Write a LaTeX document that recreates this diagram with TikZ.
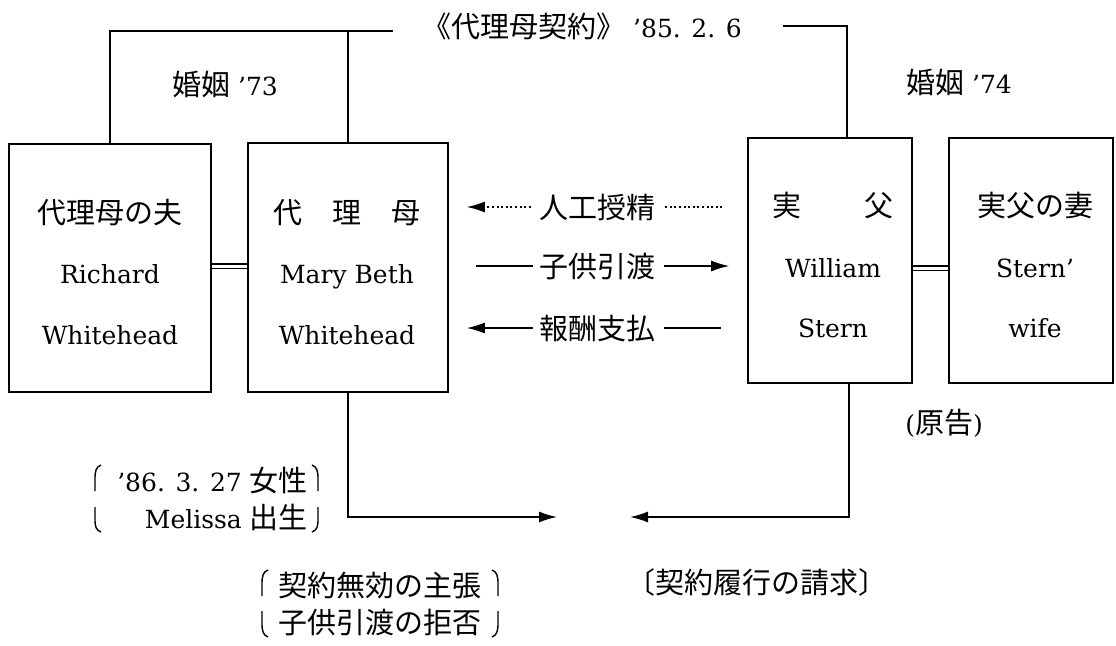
\documentclass[tikz,border=0pt]{standalone}
\usepackage{fontspec}
\setmainfont{DejaVu Serif}
\newfontfamily\jp{Noto Sans CJK JP}[Scale=1.16]
\usetikzlibrary{arrows.meta}
\begin{document}
\begin{tikzpicture}[x=1pt,y=-1pt,
  box/.style={draw, line width=1.6pt, inner sep=0pt},
  txt/.style={font=\fontsize{25}{28}\selectfont, inner sep=0pt, text height=22pt, text depth=0pt},
  ln/.style={line width=1.6pt},
  tip/.style={-{Latex[length=18pt,width=11pt]}},
  arr/.style={line width=1.6pt, tip},
  dotpat/.style={line width=1.4pt, dash pattern=on 2pt off 2.6pt},
  dbl/.style={double, double distance=3pt, line width=1.6pt},
  brk/.style={line width=1.4pt}]
\useasboundingbox (0,0) rectangle (1116,645);

% boxes
\node[box, minimum width=202pt, minimum height=248pt] (b1) at (110,268) {};
\node[box, minimum width=200pt, minimum height=249pt] (b2) at (348,267.5) {};
\node[box, minimum width=164pt, minimum height=245pt] (b3) at (830,260.5) {};
\node[box, minimum width=164pt, minimum height=245pt] (b4) at (1031,260.5) {};

% box texts
\node[txt] (t11) at (110,212) {\jp 代理母の夫};
\node[txt] (t12) at (110,272) {Richard};
\node[txt] (t13) at (110,333) {Whitehead};
\node[txt] (t21) at (347,212) {\jp 代\hspace{30pt}理\hspace{30pt}母};
\node[txt] (t22) at (347,272) {Mary Beth};
\node[txt] (t23) at (347,333) {Whitehead};
\node[txt] (t31) at (833,205) {\jp 実\hspace{64pt}父};
\node[txt] (t32) at (833,266) {William};
\node[txt] (t33) at (833,326) {Stern};
\node[txt] (t41) at (1035,205) {\jp 実父の妻};
\node[txt] (t42) at (1035,266) {Stern'};
\node[txt] (t43) at (1035,326) {wife};

% top labels
\node[txt] (m73) at (225,84) {{\jp 婚姻} '73};
\node[txt] (m74) at (959,82) {{\jp 婚姻} '74};
\node[txt] (ct) at (582,26) {{\jp 《代理母契約》} '85. 2. 6};
\node[txt] (gen) at (944,422) {({\jp 原告})};

% top connectors
\coordinate (tj) at (393,31);
\coordinate (cr) at (783,26);
\draw[ln] (b1.north) |- (tj);
\draw[ln] (b2.north) -- (b2.north |- tj);
\draw[ln] (cr) -| ([xshift=17pt]b3.north);

% marriage double lines
\node[txt] (kh) at (597,266) {\jp 子供引渡};
\draw[dbl] (b1.east |- kh) -- (b2.west |- kh);
\draw[dbl] ([yshift=-2pt]b3.east |- kh) -- ([yshift=-2pt]b4.west |- kh);

% middle arrows
\node[txt] (ai) at (597,207) {\jp 人工授精};
\node[txt] (hs) at (597,328) {\jp 報酬支払};
\draw[dotpat, tip, shorten <=8pt, shorten >=18pt] (ai.west) -- (ai.west -| b2.east);
\draw[dotpat, shorten <=10pt, shorten >=24pt] (ai.east) -- (ai.east -| b3.west);
\draw[ln, shorten <=6pt, shorten >=27pt] (kh.west) -- (kh.west -| b2.east);
\draw[arr, shorten <=9pt, shorten >=18pt] (kh.east) -- (kh.east -| b3.west);
\draw[arr, shorten <=6pt, shorten >=18pt] (hs.west) -- (hs.west -| b2.east);
\draw[ln, shorten <=9pt, shorten >=26pt] (hs.east) -- (hs.east -| b3.west);

% bottom arrows
\coordinate (m1) at (557,517);
\coordinate (m2) at (630,517);
\draw[arr] (b2.south) |- (m1);
\draw[arr] ([xshift=19pt]b3.south) |- (m2);

% bracketed group A
\node[txt, anchor=east] (a1) at (308,480) {'86. 3. 27 {\jp 女性}};
\node[txt, anchor=east] (a2) at (308,517) {Melissa {\jp 出生}};
\draw[brk] (101,465) .. controls (96,467) and (95,471) .. (95,479) -- (95,491);
\draw[brk] (95,507) -- (95,519) .. controls (95,527) and (96,530) .. (101,532);
\draw[brk] (312,465) .. controls (317,467) and (318,471) .. (318,479) -- (318,491);
\draw[brk] (318,507) -- (318,519) .. controls (318,527) and (317,530) .. (312,532);

% bracketed group B
\node[txt] (bb1) at (380,585) {\jp 契約無効の主張};
\node[txt] (bb2) at (380,622) {\jp 子供引渡の拒否};
\draw[brk] (268,570) .. controls (263,572) and (262,576) .. (262,584) -- (262,596);
\draw[brk] (262,611) -- (262,623) .. controls (262,631) and (263,635) .. (268,637);
\draw[brk] (492,570) .. controls (497,572) and (498,576) .. (498,584) -- (498,596);
\draw[brk] (498,611) -- (498,623) .. controls (498,631) and (497,635) .. (492,637);

% claim
\node[txt] (cl) at (757,582) {\jp 〔契約履行の請求〕};
\end{tikzpicture}
\end{document}
